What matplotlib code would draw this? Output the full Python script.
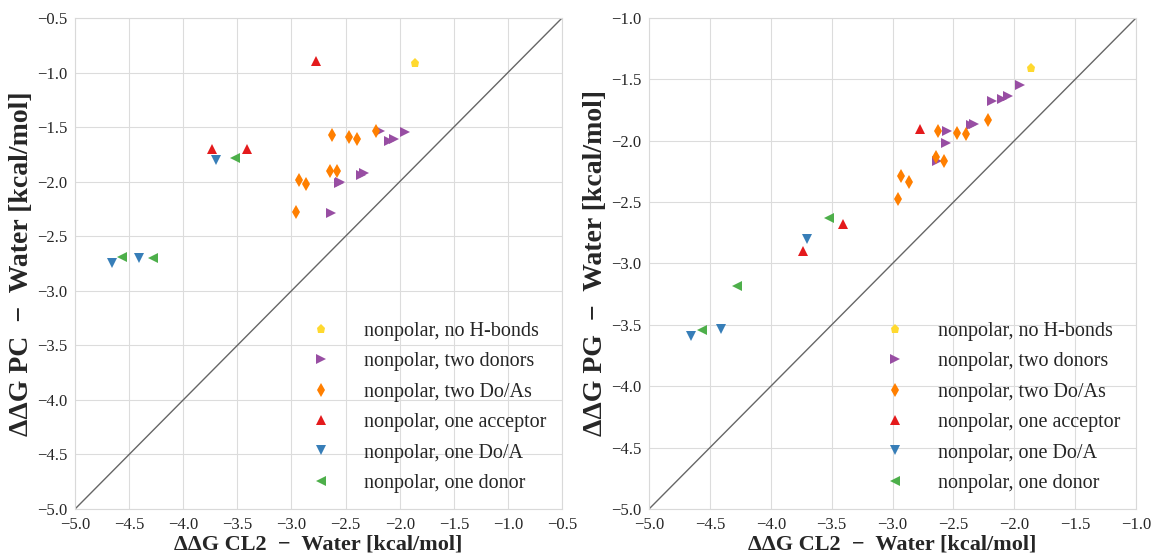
import numpy as np
import matplotlib
matplotlib.use("Agg")
import matplotlib.pyplot as plt
import seaborn as sns

# --- data (kcal/mol) ---
groups = ["nonpolar, no H-bonds", "nonpolar, two donors", "nonpolar, two Do/As",
          "nonpolar, one acceptor", "nonpolar, one Do/A", "nonpolar, one donor"]
markers = ["p", ">", "d", "^", "v", "<"]
colors = ["#ffd92f", "#984ea3", "#ff7f00", "#e41a1c", "#377eb8", "#4daf4a"]

cl2 = [
    [-1.86],
    [-1.95, -2.05, -2.10, -2.18, -2.33, -2.355, -2.555, -2.56, -2.637],
    [-2.215, -2.627, -2.47, -2.398, -2.642, -2.578, -2.93, -2.868, -2.958],
    [-3.735, -3.41, -2.778],
    [-3.70, -4.656, -4.405],
    [-3.52, -4.563, -4.276],
]
pc = [
    [-0.909],
    [-1.544, -1.605, -1.626, -1.535, -1.917, -1.935, -2.00, -2.01, -2.288],
    [-1.535, -1.571, -1.587, -1.605, -1.904, -1.904, -1.983, -2.023, -2.279],
    [-1.70, -1.70, -0.894],
    [-1.80, -2.746, -2.70],
    [-1.78, -2.69, -2.70],
]
pg = [
    [-1.41],
    [-1.543, -1.635, -1.657, -1.679, -1.861, -1.87, -1.923, -2.018, -2.165],
    [-1.831, -1.918, -1.937, -1.942, -2.135, -2.163, -2.287, -2.336, -2.477],
    [-2.898, -2.678, -1.902],
    [-2.803, -3.591, -3.536],
    [-2.627, -3.542, -3.181],
]

sns.set_style("whitegrid")
plt.rcParams['font.family'] = ['Liberation Serif', 'DejaVu Serif']
plt.rcParams['axes.edgecolor'] = '#d9d9d9'
plt.rcParams['grid.color'] = '#dcdcdc'

fig = plt.figure(figsize=(11.51, 5.55), dpi=100)
ax1 = fig.add_axes([0.0652, 0.0829, 0.4231, 0.8847])
ax2 = fig.add_axes([0.5639, 0.0829, 0.4231, 0.8847])

panels = [(ax1, pc, -0.5, "ΔΔG PC  −  Water [kcal/mol]"),
          (ax2, pg, -1.0, "ΔΔG PG  −  Water [kcal/mol]")]

for ax, yvals, hi, ylab in panels:
    ax.plot([-5, hi], [-5, hi], color='#666666', lw=1, zorder=1)
    for g in range(len(groups)):
        ms = 7.5 if markers[g] == 'd' else 6.5
        ax.plot(cl2[g], yvals[g], linestyle='none', marker=markers[g], color=colors[g],
                ms=ms, mew=0, label=groups[g], zorder=3)
    ticks = np.arange(-5.0, hi + 0.01, 0.5)
    ax.set_xlim(-5, hi)
    ax.set_ylim(-5, hi)
    ax.set_xticks(ticks)
    ax.set_yticks(ticks)
    ax.tick_params(labelsize=12, pad=2)
    ax.set_xlabel("ΔΔG CL2  −  Water [kcal/mol]", fontsize=16, fontweight='bold', labelpad=1)
    ax.set_ylabel(ylab, fontsize=20, fontweight='bold', labelpad=2)
    ax.legend(loc='lower right', frameon=False, fontsize=14.5, labelspacing=0.56,
              handletextpad=1.1, borderaxespad=0.4)

fig.savefig("out.png", dpi=100)
